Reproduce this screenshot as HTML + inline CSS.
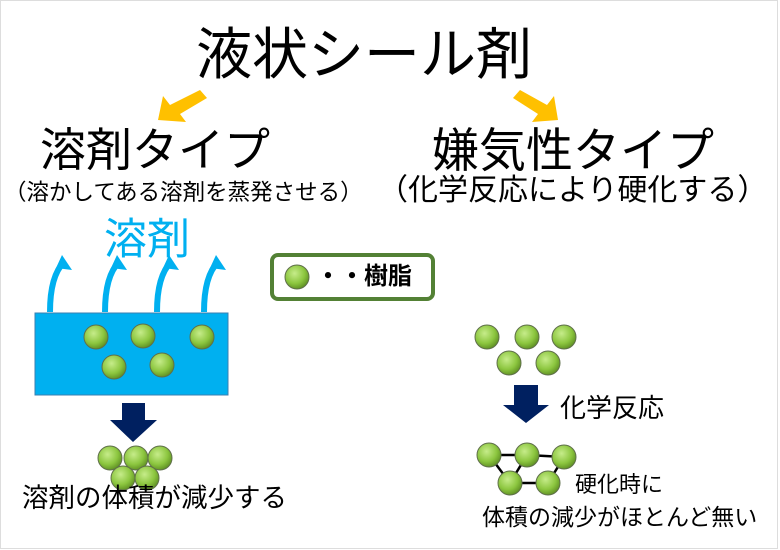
<!DOCTYPE html>
<html><head><meta charset="utf-8"><style>
body{margin:0;background:#fff}
#c{position:relative;width:780px;height:550px;overflow:hidden;font-family:"Liberation Sans","Noto Sans CJK JP",sans-serif;color:#000}
.t{position:absolute;white-space:nowrap;line-height:1}
svg{position:absolute;left:0;top:0}
</style></head><body><div id="c">
<svg width="780" height="550">
<defs>
<radialGradient id="g" cx="0.4" cy="0.35" r="0.7"><stop offset="0" stop-color="#c6ec8a"/><stop offset="0.6" stop-color="#8cc63f"/><stop offset="1" stop-color="#5a8a20"/></radialGradient>
<g id="b"><circle r="12" fill="url(#g)" stroke="#5f6f4a" stroke-width="1"/></g>
</defs>
<rect x="0.5" y="0.5" width="777" height="548" fill="none" stroke="#ddd"/>
<!-- orange arrows -->
<g fill="#ffc000">
<polygon points="200,90 207,98 180,114 186,122 158,120 163,96 170,105"/>
<polygon points="520,90 513,98 538,114 532,122 558,120 554,96 547,105"/>
</g>
<!-- cyan arrows -->
<g fill="none" stroke="#00b0f0" stroke-width="6">
<path d="M50,312 C50,285 56,270 64,262"/>
<path d="M105,312 C105,285 111,270 119,262"/>
<path d="M157,312 C157,285 163,270 171,262"/>
<path d="M204,312 C204,285 210,270 218,262"/>
</g>
<g fill="#00b0f0">
<polygon points="62,255 72,270 56,268"/>
<polygon points="117,255 127,270 111,268"/>
<polygon points="169,255 179,270 163,268"/>
<polygon points="216,255 226,270 210,268"/>
</g>
<rect x="35" y="313" width="193" height="82" fill="#00b0f0" stroke="#3a7fb0" stroke-width="1"/>
<use href="#b" x="96" y="337"/><use href="#b" x="143" y="336"/><use href="#b" x="202" y="337"/>
<use href="#b" x="114" y="367"/><use href="#b" x="162" y="365"/>
<polygon points="122,403 145,403 145,420 157,420 133,442 110,420 122,420" fill="#002060"/>
<use href="#b" x="110" y="458"/><use href="#b" x="136" y="458"/><use href="#b" x="160" y="458"/>
<use href="#b" x="123" y="478"/><use href="#b" x="147" y="478"/>
<!-- legend -->
<rect x="272" y="255" width="161" height="44" rx="6" fill="#fff" stroke="#538135" stroke-width="4"/>
<use href="#b" x="297" y="277"/>
<!-- right -->
<use href="#b" x="487" y="337"/><use href="#b" x="527" y="337"/><use href="#b" x="564" y="337"/>
<use href="#b" x="509" y="363"/><use href="#b" x="548" y="363"/>
<polygon points="514,385 538,385 538,405 549,405 526,423 503,405 514,405" fill="#002060"/>
<g stroke="#000" stroke-width="2.5">
<line x1="489" y1="455" x2="527" y2="455"/><line x1="527" y1="455" x2="564" y2="457"/>
<line x1="489" y1="455" x2="510" y2="483"/><line x1="527" y1="455" x2="510" y2="483"/>
<line x1="510" y1="483" x2="548" y2="483"/><line x1="564" y1="457" x2="548" y2="483"/>
</g>
<use href="#b" x="489" y="455"/><use href="#b" x="527" y="455"/><use href="#b" x="564" y="457"/>
<use href="#b" x="510" y="483"/><use href="#b" x="548" y="483"/>
</svg>
<div class="t" style="left:196px;top:27px;font-size:56px">液状シール剤</div>
<div class="t" style="left:40px;top:127px;font-size:46px">溶剤タイプ</div>
<div class="t" style="left:4px;top:182px;font-size:22.5px">（溶かしてある溶剤を蒸発させる）</div>
<div class="t" style="left:432px;top:127px;font-size:47px">嫌気性タイプ</div>
<div class="t" style="left:378px;top:176px;font-size:30px">（化学反応により硬化する）</div>
<div class="t" style="left:104px;top:219px;font-size:43px;color:#00b0f0">溶剤</div>
<div class="t" style="left:316px;top:265px;font-size:24px;font-weight:bold">・・樹脂</div>
<div class="t" style="left:22px;top:485px;font-size:26.5px">溶剤の体積が減少する</div>
<div class="t" style="left:560px;top:395px;font-size:26px">化学反応</div>
<div class="t" style="left:575px;top:474px;font-size:22px">硬化時に</div>
<div class="t" style="left:482px;top:506px;font-size:23px">体積の減少がほとんど無い</div>
</div></body></html>
